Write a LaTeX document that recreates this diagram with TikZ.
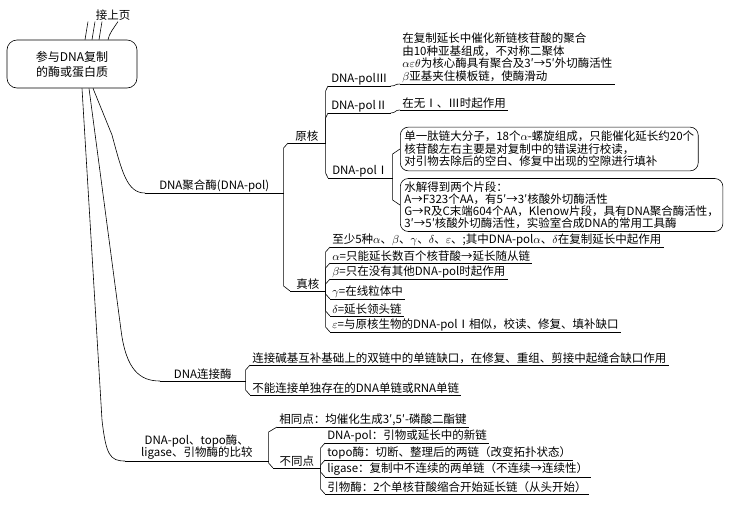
\documentclass[tikz,border=0pt]{standalone}
\usepackage{fix-cm}
\usepackage{fontspec}
\setmainfont{Noto Sans CJK SC}
\usetikzlibrary{calc,positioning}
\newcommand{\fs}{\fontsize{11.5}{12.5}\selectfont}
\tikzset{
  % bracket elbow: child above / below its parent
  chu/.style={to path={let \p1=(\tikztostart), \p2=(\tikztotarget) in -- (\x1,\y2-5pt) -- (\tikztotarget)}},
  chd/.style={to path={let \p1=(\tikztostart), \p2=(\tikztotarget) in -- (\x1,\y2+5pt) -- (\tikztotarget)}},
}

\begin{document}
\begin{tikzpicture}[x=1pt,y=-1pt,line width=0.6pt,
    every node/.style={font=\fs},
    mainbox/.style={draw, rounded corners=10pt, minimum width=130, minimum height=48, align=center, font=\fontsize{12}{15}\selectfont},
    brnode/.style={anchor=south west, inner xsep=2pt, inner ysep=1pt, minimum width=#1},
    leaf/.style={anchor=south west, inner xsep=2pt, inner ysep=1pt, align=left},
    nbox/.style={draw, rounded corners=8pt, anchor=west, align=left, inner sep=4pt}]
      \useasboundingbox (0,0) rectangle (731,504);

      % Central box and the link to the previous page
      \node[mainbox] (root) at (72,64) {参与DNA复制\\的酶或蛋白质};
      \node[inner sep=1pt] (prev) at (113,15) {接上页};
      \draw ([xshift=-25pt]prev.south) -- ([xshift=13pt]root.north);
      \draw ([xshift=-18pt]prev.south) -- ([xshift=20pt]root.north);
      \draw ([xshift=-11pt]prev.south) -- ([xshift=27pt]root.north);
      \draw ([xshift=5pt]prev.south) .. controls +(-4,6) and +(1,-6) .. ([xshift=36pt]root.north);

      % Main branches
      \node[brnode=138] (pol) at (145,193) {DNA聚合酶(DNA-pol)};
      \node[brnode=85] (lig) at (160,381) {DNA连接酶};
      \node[brnode=143, align=center] (cmp) at (125,461) {DNA-pol、topo酶、\\ligase、引物酶的比较};
      \draw ([xshift=21pt]root.south) -- (112,135) .. controls (122,172) and (127,193) .. (pol.south west);
      \draw ([xshift=17pt]root.south) -- (121,330) .. controls (126,370) and (140,381) .. (lig.south west);
      \draw ([xshift=10pt]root.south) -- (102,420) .. controls (106,455) and (110,461) .. (cmp.south west);

      % DNA polymerase: prokaryote / eukaryote
      \node[brnode=37] (pro) at (288,143) {原核};
      \node[brnode=35] (euk) at (290,291) {真核};
      \draw (pol.south east) to[chu] (pro.south west);
      \draw (pol.south east) to[chd] (euk.south west);

      % Prokaryote polymerases
      \node[brnode=62] (p3) at (328,86) {DNA-polⅢ};
      \node[brnode=62] (p2) at (328,113) {DNA-polⅡ};
      \node[brnode=64] (p1) at (328,178) {DNA-polⅠ};
      \draw (pro.south east) to[chu] (p3.south west);
      \draw (pro.south east) to[chu] (p2.south west);
      \draw (pro.south east) to[chd] (p1.south west);

      \node[leaf] (t3) at (400,84) {在复制延长中催化新链核苷酸的聚合\\由10种亚基组成，不对称二聚体\\$\alpha\varepsilon\theta$为核心酶具有聚合及3′→5′外切酶活性\\$\beta$亚基夹住模板链，使酶滑动};
      \node[leaf] (t2) at (400,110) {在无Ⅰ、Ⅲ时起作用};
      \draw (p3.south east) .. controls +(6,0) and +(-6,0) .. (t3.south west);
      \draw (p2.south east) .. controls +(6,0) and +(-6,0) .. (t2.south west);

      \node[nbox] (b1) at (400,149) {单一肽链大分子，18个$\alpha$-螺旋组成，只能催化延长约20个\\核苷酸左右主要是对复制中的错误进行校读，\\对引物去除后的空白、修复中出现的空隙进行填补};
      \node[nbox, inner ysep=3pt, font=\fontsize{11.5}{12}\selectfont] (b2) at (400,205) {水解得到两个片段：\\A→F323个AA，有5′→3′核酸外切酶活性\\G→R及C末端604个AA，Klenow片段，具有DNA聚合酶活性，\\3′→5′核酸外切酶活性，实验室合成DNA的常用工具酶};
      \draw (p1.south east) to[chu] (b1.west);
      \draw (p1.south east) to[chd] (b2.west);

      % Eukaryote polymerases
      \node[leaf] (e0) at (330,247) {至少5种$\alpha$、$\beta$、$\gamma$、$\delta$、$\varepsilon$、;其中DNA-pol$\alpha$、$\delta$在复制延长中起作用};
      \node[leaf] (e1) at (330,263) {$\alpha$=只能延长数百个核苷酸→延长随从链};
      \node[leaf] (e2) at (330,279) {$\beta$=只在没有其他DNA-pol时起作用};
      \node[leaf] (e3) at (330,299) {$\gamma$=在线粒体中};
      \node[leaf] (e4) at (330,316) {$\delta$=延长领头链};
      \node[leaf] (e5) at (330,332) {$\varepsilon$=与原核生物的DNA-polⅠ相似，校读、修复、填补缺口};
      \foreach \k in {e0,e1,e2} \draw (euk.south east) to[chu] (\k.south west);
      \foreach \k in {e3,e4,e5} \draw (euk.south east) to[chd] (\k.south west);

      % DNA ligase
      \node[leaf] (l1) at (250,365) {连接碱基互补基础上的双链中的单链缺口，在修复、重组、剪接中起缝合缺口作用};
      \node[leaf] (l2) at (250,395) {不能连接单独存在的DNA单链或RNA单链};
      \draw (lig.south east) to[chu] (l1.south west);
      \draw (lig.south east) to[chd] (l2.south west);

      % Comparison
      \node[leaf] (c1) at (277,427) {相同点：均催化生成3′,5′-磷酸二酯键};
      \node[brnode=47] (c2) at (273,468) {不同点};
      \draw (cmp.south east) to[chu] (c1.south west);
      \draw (cmp.south east) to[chd] (c2.south west);

      \node[leaf] (d1) at (325,443) {DNA-pol：引物或延长中的新链};
      \node[leaf] (d2) at (325,460) {topo酶：切断、整理后的两链（改变拓扑状态）};
      \node[leaf] (d3) at (325,477) {ligase：复制中不连续的两单链（不连续→连续性）};
      \node[leaf] (d4) at (325,494) {引物酶：2个单核苷酸缩合开始延长链（从头开始）};
      \foreach \k in {d1,d2} \draw (c2.south east) to[chu] (\k.south west);
      \foreach \k in {d3,d4} \draw (c2.south east) to[chd] (\k.south west);

      % Underlines of all topics
      \foreach \k in {pol,lig,cmp,pro,euk,p3,p2,p1,t3,t2,e0,e1,e2,e3,e4,e5,l1,l2,c1,c2,d1,d2,d3,d4}
        \draw (\k.south west) -- (\k.south east);
    \end{tikzpicture}
\end{document}
